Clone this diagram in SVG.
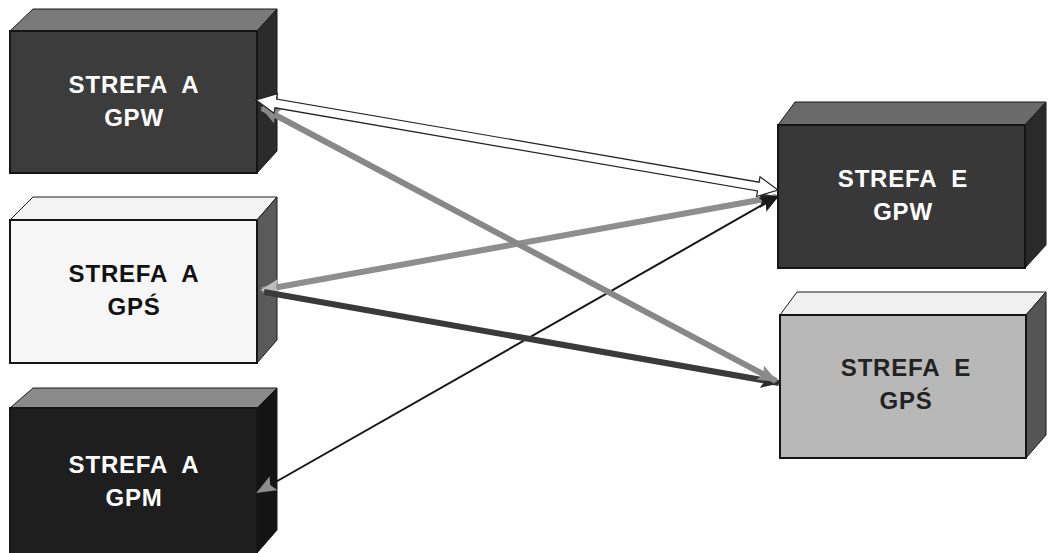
<svg xmlns="http://www.w3.org/2000/svg" width="1051" height="553" viewBox="0 0 1051 553">
<style>
.lbl{font-family:"Liberation Sans",Arial,sans-serif;font-weight:bold;font-size:24px;letter-spacing:0.8px;text-anchor:middle;white-space:pre}
.front{stroke:#151515;stroke-width:2}
.side{stroke:#1a1a1a;stroke-width:1}
</style>
<defs>
<marker id="hGrey" markerUnits="userSpaceOnUse" viewBox="0 0 20 16" refX="18" refY="8" markerWidth="20" markerHeight="16" orient="auto-start-reverse"><path d="M0,0 L20,8 L0,16 L4,8 Z" fill="#8a8a8a"/></marker>
<marker id="hLight" markerUnits="userSpaceOnUse" viewBox="0 0 20 16" refX="18" refY="8" markerWidth="20" markerHeight="16" orient="auto-start-reverse"><path d="M0,0 L20,8 L0,16 L4,8 Z" fill="#bdbdbd"/></marker>
<marker id="hDark" markerUnits="userSpaceOnUse" viewBox="0 0 20 16" refX="18" refY="8" markerWidth="20" markerHeight="16" orient="auto-start-reverse"><path d="M0,0 L20,8 L0,16 L4,8 Z" fill="#2a2a2a"/></marker>
<marker id="hBlack" markerUnits="userSpaceOnUse" viewBox="0 0 20 16" refX="18" refY="8" markerWidth="20" markerHeight="16" orient="auto-start-reverse"><path d="M0,0 L20,8 L0,16 L4,8 Z" fill="#1a1a1a"/></marker>
<marker id="hGreySmall" markerUnits="userSpaceOnUse" viewBox="0 0 20 16" refX="18" refY="8" markerWidth="20" markerHeight="16" orient="auto-start-reverse"><path d="M0,0 L20,8 L0,16 L4,8 Z" fill="#8c8c8c"/></marker>
</defs>
<rect width="1051" height="553" fill="#ffffff"/>

<g id="node-a-gpw">
<polygon points="10,31 33,9 277,9 257,31" fill="#7a7a7a" class="side"/>
<polygon points="257,31 277,9 277,151 257,173" fill="#2b2b2b" class="side"/>
<rect x="10" y="31" width="247" height="142" fill="#3c3c3c" class="front"/>
<text class="lbl" x="134" y="93" fill="#ffffff">STREFA  A</text>
<text class="lbl" x="134" y="126" fill="#ffffff">GPW</text>
</g>

<g id="node-a-gps">
<polygon points="10,220 33,197 277,197 257,220" fill="#f3f3f3" class="side"/>
<polygon points="257,220 277,197 277,340 257,363" fill="#5a5a5a" class="side"/>
<rect x="10" y="220" width="247" height="143" fill="#f6f6f6" class="front"/>
<text class="lbl" x="134" y="282" fill="#111111">STREFA  A</text>
<text class="lbl" x="134" y="315" fill="#111111">GPŚ</text>
</g>

<g id="node-a-gpm">
<polygon points="10,408 33,388 277,388 257,408" fill="#8a8a8a" class="side"/>
<polygon points="257,408 277,388 277,530 257,553" fill="#141414" class="side"/>
<rect x="10" y="408" width="247" height="150" fill="#1e1e1e" class="front"/>
<text class="lbl" x="134" y="473" fill="#ffffff">STREFA  A</text>
<text class="lbl" x="134" y="506" fill="#ffffff">GPM</text>
</g>

<g id="node-e-gpw">
<polygon points="778,125 795,102 1046,102 1025,125" fill="#6a6a6a" class="side"/>
<polygon points="1025,125 1046,102 1046,245 1025,268" fill="#2a2a2a" class="side"/>
<rect x="778" y="125" width="247" height="143" fill="#383838" class="front"/>
<text class="lbl" x="903" y="187" fill="#ffffff">STREFA  E</text>
<text class="lbl" x="903" y="220" fill="#ffffff">GPW</text>
</g>

<g id="node-e-gps">
<polygon points="780,315 797,292 1046,292 1026,315" fill="#f0f0f0" class="side"/>
<polygon points="1026,315 1046,292 1046,435 1026,458" fill="#555555" class="side"/>
<rect x="780" y="315" width="246" height="143" fill="#b8b8b8" class="front"/>
<text class="lbl" x="906" y="376" fill="#222222">STREFA  E</text>
<text class="lbl" x="906" y="409" fill="#222222">GPŚ</text>
</g>

<g id="connectors">
<line x1="262" y1="290" x2="776" y2="197" stroke="#8e8e8e" stroke-width="6" marker-start="url(#hLight)" marker-end="url(#hDark)"/>
<line x1="258" y1="492" x2="778" y2="196" stroke="#151515" stroke-width="2" marker-start="url(#hGreySmall)" marker-end="url(#hBlack)"/>
<line x1="264" y1="292" x2="779" y2="383" stroke="#3a3a3a" stroke-width="6" marker-end="url(#hDark)"/>
<line x1="262" y1="108" x2="776" y2="381" stroke="#888888" stroke-width="6" marker-start="url(#hGrey)" marker-end="url(#hGrey)"/>
<polygon points="256,100 274,113.3 275,107.8 757.5,191 756.6,196.5 778,190 760,176.8 759.1,182.2 276.5,99 277.4,93.6" fill="#ffffff" stroke="#222222" stroke-width="1.2" stroke-linejoin="miter"/>
</g>
</svg>
